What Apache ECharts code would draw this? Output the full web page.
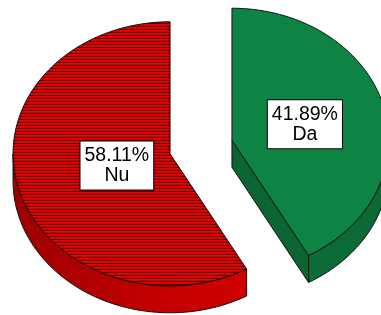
<!DOCTYPE html>
<html>
<head>
<meta charset="utf-8">
<script src="https://cdn.jsdelivr.net/npm/echarts@6/dist/echarts.min.js"></script>
<style>
html, body { margin: 0; padding: 0; background: #fff; }
#main { width: 381px; height: 315px; }
</style>
</head>
<body>
<div id="main"></div>
<script>
// slice data (percent of cases)
var categories = ['Da', 'Nu'];
var percents = [41.89, 58.11];

// layout of the tilted pie, in px
var cx = 201, cy = 147;      // pie centre before exploding
var rx = 157, ry = 132;      // ellipse radii of the top face
var depth = 27;              // thickness of the pie
var explode = 32;            // how far each slice is pulled out
var labelFrac = { Da: 0.48, Nu: 0.35 };

// horizontal line hatching for Nu
var hatch = document.createElement('canvas');
hatch.width = 4; hatch.height = 3;
var hc = hatch.getContext('2d');
hc.fillStyle = '#f20000'; hc.fillRect(0, 0, 4, 1);
hc.fillStyle = '#d40000'; hc.fillRect(0, 1, 4, 1);
hc.fillStyle = '#5e0000'; hc.fillRect(0, 2, 4, 1);

var looks = {
  Da: {
    top: '#0e8444',
    side: new echarts.graphic.LinearGradient(0, 0, 1, 0, [
      { offset: 0, color: '#0c6d38' }, { offset: 1, color: '#0a6834' }
    ]),
    cut: '#0a6532'
  },
  Nu: {
    top: { image: hatch, repeat: 'repeat' },
    side: new echarts.graphic.LinearGradient(0, 0, 1, 0, [
      { offset: 0, color: '#9c0000' }, { offset: 0.6, color: '#c20000' }, { offset: 1, color: '#d00000' }
    ]),
    cut: '#b00000'
  }
};

var total = 0;
var cum = [0];
for (var i = 0; i < percents.length; i++) {
  total += percents[i];
  cum.push(total);
}

function renderItem(params, api) {
  var i = params.dataIndex;
  var name = categories[i];
  var look = looks[name];
  var a0 = cum[i] / total * Math.PI * 2;
  var a1 = cum[i + 1] / total * Math.PI * 2;
  var mid = (a0 + a1) / 2;
  var ox = cx + explode * Math.sin(mid);
  var oy = cy - explode * Math.cos(mid) * ry / rx;

  function pt(a, dz) {
    return [ox + rx * Math.sin(a), oy - ry * Math.cos(a) + (dz || 0)];
  }
  var edge = { stroke: '#111', lineWidth: 1 };
  var kids = [];

  // outer wall, only the front half shows
  var w0 = Math.max(a0, Math.PI / 2), w1 = Math.min(a1, Math.PI * 1.5);
  if (w1 > w0) {
    var pts = [], N = 60, n;
    for (n = 0; n <= N; n++) pts.push(pt(w0 + (w1 - w0) * n / N));
    for (n = N; n >= 0; n--) pts.push(pt(w0 + (w1 - w0) * n / N, depth));
    kids.push({ type: 'polygon', shape: { points: pts },
      style: Object.assign({ fill: look.side }, edge) });
  }

  // cut faces
  var c = [ox, oy], cd = [ox, oy + depth];
  if (Math.sin(a1) > 1e-6) {
    kids.push({ type: 'polygon', shape: { points: [c, pt(a1), pt(a1, depth), cd] },
      style: Object.assign({ fill: look.cut }, edge) });
  }
  if (Math.sin(a0) < -1e-6) {
    kids.push({ type: 'polygon', shape: { points: [c, pt(a0), pt(a0, depth), cd] },
      style: Object.assign({ fill: look.cut }, edge) });
  }

  // top face
  var top = [c];
  var M = 120;
  for (var k = 0; k <= M; k++) top.push(pt(a0 + (a1 - a0) * k / M));
  kids.push({ type: 'polygon', shape: { points: top },
    style: Object.assign({ fill: look.top }, edge) });

  // label
  var f = labelFrac[name];
  kids.push({
    type: 'text',
    x: ox + f * rx * Math.sin(mid),
    y: oy - f * ry * Math.cos(mid),
    style: {
      text: api.value(0).toFixed(2) + '%\n' + name,
      font: '19.5px "Liberation Sans", Arial, sans-serif',
      fill: '#000',
      align: 'center',
      verticalAlign: 'middle',
      lineHeight: 20,
      backgroundColor: '#fff',
      borderColor: '#000',
      borderWidth: 1,
      padding: [4, 4, 4, 4]
    }
  });

  return { type: 'group', children: kids };
}

var chart = echarts.init(document.getElementById('main'));
chart.setOption({
  animation: false,
  series: [{
    type: 'custom',
    coordinateSystem: 'none',
    renderItem: renderItem,
    data: categories.map(function (c, i) { return { name: c, value: [percents[i]] }; })
  }]
});
</script>
</body>
</html>
